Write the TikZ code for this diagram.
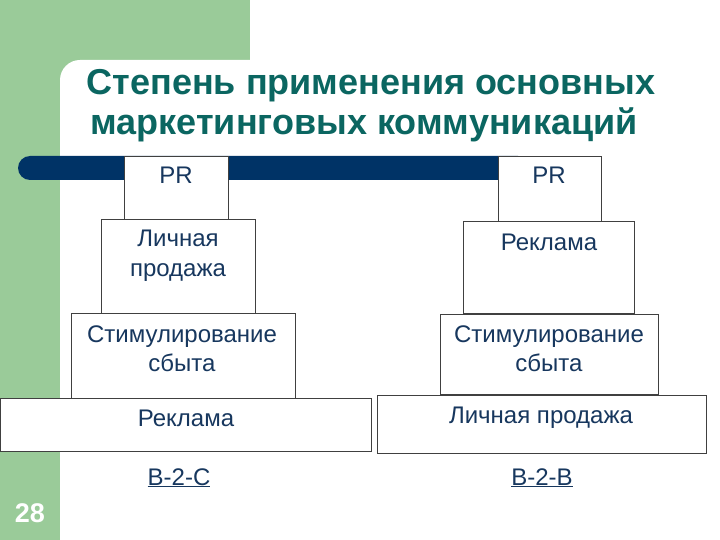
\documentclass[tikz,border=0pt]{standalone}
\usepackage{fontspec}
\setmainfont{Liberation Sans}
\definecolor{slidegreen}{HTML}{9ACB99}
\definecolor{barblue}{HTML}{003366}
\definecolor{titleteal}{HTML}{0B6661}
\definecolor{txtblue}{HTML}{17375E}
\definecolor{edge}{HTML}{404040}
\tikzset{
  box/.style={draw=edge, line width=0.9pt, fill=white, rectangle, inner sep=0pt, anchor=north west},
  txt/.style={text=txtblue, font=\fontsize{24}{29}\selectfont, anchor=base, inner sep=0pt},
  ttl/.style={text=titleteal, font=\fontsize{36}{42}\selectfont\bfseries, anchor=base, inner sep=0pt},
}
\begin{document}
\begin{tikzpicture}[x=1pt,y=-1pt]
\useasboundingbox (0,0) rectangle (720,540);
% background
\fill[slidegreen] (0,0) rectangle (250,540);
\fill[white, rounded corners=20pt] (60,60) rectangle (760,580);
% title
\node[ttl] (t1) at (371,95) {Степень применения основных};
\node[ttl] (t2) at (364,135) {маркетинговых коммуникаций};
% bar
\fill[barblue, rounded corners=12pt] (18,156) rectangle (530,180);
% left pyramid
\node[box, minimum width=104pt, minimum height=63pt] (lpr) at (124,156) {};
\node[box, minimum width=154pt, minimum height=94pt] (lpers) at (101,219) {};
\node[box, minimum width=224pt, minimum height=85pt] (lstim) at (71,313) {};
\node[box, minimum width=371pt, minimum height=53pt] (lads) at (0,398) {};
\node[txt] (lprt) at (176,184) {PR};
\node[txt] (lperst1) at (178,247) {Личная};
\node[txt] (lperst2) at (178,276) {продажа};
\node[txt] (lstimt1) at (182,342) {Стимулирование};
\node[txt] (lstimt2) at (182,371) {сбыта};
\node[txt] (ladst) at (186,426) {Реклама};
\node[txt] (b2c) at (179,485) {\underline{B-2-C}};
% right pyramid
\node[box, minimum width=103pt, minimum height=66pt] (rpr) at (498,156) {};
\node[box, minimum width=171pt, minimum height=92pt] (rads) at (463,221) {};
\node[box, minimum width=218pt, minimum height=80pt] (rstim) at (440,314) {};
\node[box, minimum width=329pt, minimum height=58pt] (rpers) at (377,395) {};
\node[txt] (rprt) at (549,184) {PR};
\node[txt] (radst) at (549,250) {Реклама};
\node[txt] (rstimt1) at (549,342) {Стимулирование};
\node[txt] (rstimt2) at (549,371) {сбыта};
\node[txt] (rperst) at (541,423) {Личная продажа};
\node[txt] (b2b) at (542,485) {\underline{B-2-B}};
% page number
\node[anchor=base, inner sep=0pt, text=white, font=\fontsize{27}{30}\selectfont\bfseries] (pg) at (30,522) {28};
\end{tikzpicture}
\end{document}
